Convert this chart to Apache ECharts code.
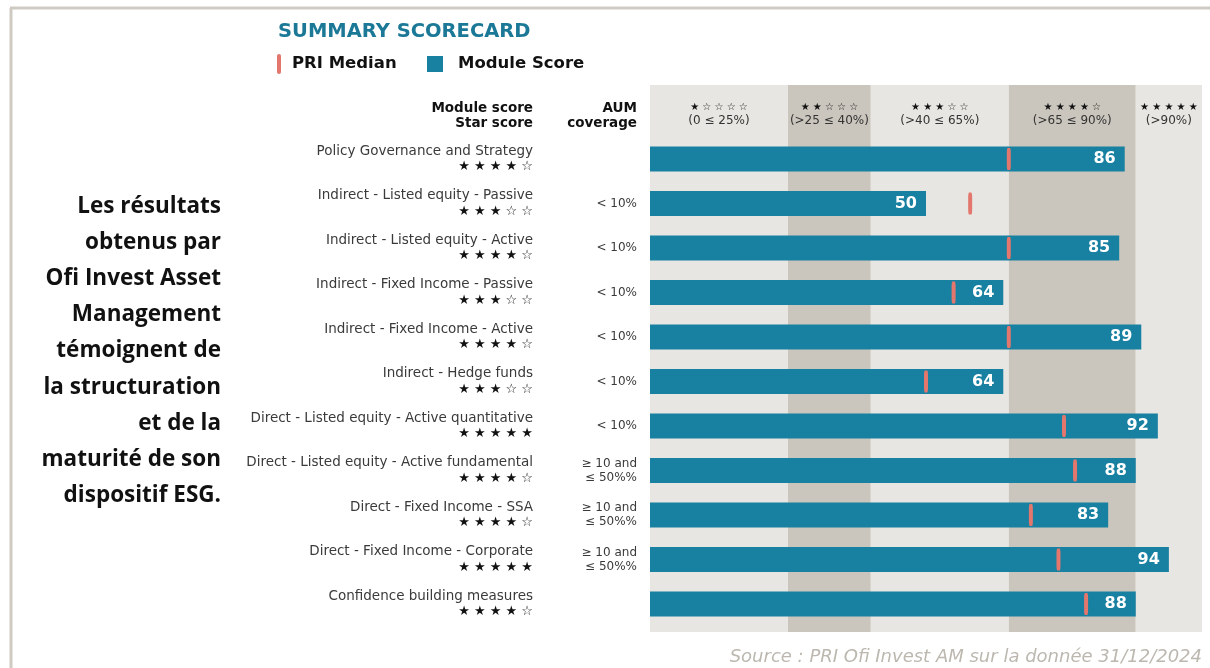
<!DOCTYPE html>
<html>
<head>
<meta charset="utf-8">
<script src="https://cdn.jsdelivr.net/npm/echarts@6/dist/echarts.min.js"></script>
<style>
  html, body { margin: 0; padding: 0; background: #fff; }
  #main { width: 1210px; height: 668px; }
</style>
</head>
<body>
<div id="main"></div>
<script>
// module names, top to bottom
const categories = [
  'Policy Governance and Strategy',
  'Indirect - Listed equity - Passive',
  'Indirect - Listed equity - Active',
  'Indirect - Fixed Income - Passive',
  'Indirect - Fixed Income - Active',
  'Indirect - Hedge funds',
  'Direct - Listed equity - Active quantitative',
  'Direct - Listed equity - Active fundamental',
  'Direct - Fixed Income - SSA',
  'Direct - Fixed Income - Corporate',
  'Confidence building measures'
];
const starScores = [4, 3, 4, 3, 4, 3, 5, 4, 4, 5, 4];
const aumCoverage = ['', '< 10%', '< 10%', '< 10%', '< 10%', '< 10%', '< 10%',
  '≥ 10 and\n≤ 50%%', '≥ 10 and\n≤ 50%%', '≥ 10 and\n≤ 50%%', ''];
const moduleScores = [86, 50, 85, 64, 89, 64, 92, 88, 83, 94, 88];
const priMedians = [65, 58, 65, 55, 65, 50, 75, 77, 69, 74, 79];

// star bands in the background
const bandEdges = [0, 25, 40, 65, 88, 100];
const bandStars = [1, 2, 3, 4, 5];
const bandRanges = ['(0 ≤ 25%)', '(>25 ≤ 40%)', '(>40 ≤ 65%)', '(>65 ≤ 90%)', '(>90%)'];

const introLines = ['Les résultats', 'obtenus par', 'Ofi Invest Asset', 'Management',
  'témoignent de', 'la structuration', 'et de la', 'maturité de son', 'dispositif ESG.'];

const TEAL = '#1880a1';
const PINK = '#e4776d';

function stars(n, sep) {
  var s = [];
  for (var i = 0; i < 5; i++) s.push(i < n ? '★' : '☆');
  return s.join(sep);
}

var chart = echarts.init(document.getElementById('main'));

var bandData = bandRanges.map(function (r, i) {
  return [bandEdges[i], bandEdges[i + 1], i];
});

var option = {
  backgroundColor: '#fff',
  animation: false,
  grid: [
    { left: 650, right: 8, top: 85, bottom: 36 },        // bands + header
    { left: 650, right: 8, top: 136.75, bottom: 41.75 }  // bars
  ],
  xAxis: [
    { gridIndex: 0, type: 'value', min: 0, max: 100, show: false },
    { gridIndex: 1, type: 'value', min: 0, max: 100, show: false }
  ],
  yAxis: [
    { gridIndex: 0, type: 'value', min: 0, max: 1, show: false },
    {
      gridIndex: 1, type: 'category', inverse: true, position: 'left', data: categories,
      axisLine: { show: false }, axisTick: { show: false }, splitLine: { show: false },
      axisLabel: {
        margin: 117,
        align: 'right',
        formatter: function (val, idx) {
          return '{n|' + val + '}\n{s|' + stars(starScores[idx], ' ') + '}';
        },
        rich: {
          n: { fontFamily: 'DejaVu Sans', fontSize: 13.5, color: '#3a3a3a', lineHeight: 16, align: 'right' },
          s: { fontFamily: 'DejaVu Sans', fontSize: 13, color: '#111', lineHeight: 16, align: 'right' }
        }
      }
    },
    {
      gridIndex: 1, type: 'category', inverse: true, position: 'left', offset: 0, data: aumCoverage,
      axisLine: { show: false }, axisTick: { show: false }, splitLine: { show: false },
      axisLabel: {
        margin: 13,
        align: 'right',
        fontFamily: 'DejaVu Sans', fontSize: 12, color: '#3a3a3a', lineHeight: 14
      }
    }
  ],
  series: [
    {
      name: 'bands',
      type: 'custom',
      xAxisIndex: 0, yAxisIndex: 0,
      silent: true,
      z: 1,
      encode: { x: [0, 1] },
      data: bandData,
      renderItem: function (params, api) {
        var i = api.value(2);
        var p0 = api.coord([api.value(0), 1]);
        var p1 = api.coord([api.value(1), 0]);
        return {
          type: 'group',
          children: [
            {
              type: 'rect',
              shape: { x: p0[0], y: p0[1], width: p1[0] - p0[0], height: p1[1] - p0[1] },
              style: { fill: i % 2 ? '#cac6bd' : '#e8e6e2' }
            },
            {
              type: 'text',
              style: {
                x: (p0[0] + p1[0]) / 2, y: p0[1] + 15,
                align: 'center', verticalAlign: 'top',
                text: '{s|' + stars(bandStars[i], ' ') + '}\n{r|' + bandRanges[i] + '}',
                rich: {
                  s: { fontFamily: 'DejaVu Sans', fontSize: 10, fill: '#111', lineHeight: 14, align: 'center' },
                  r: { fontFamily: 'DejaVu Sans', fontSize: 12, fill: '#333', lineHeight: 14, align: 'center' }
                }
              }
            }
          ]
        };
      }
    },
    {
      name: 'Module Score',
      type: 'bar',
      xAxisIndex: 1, yAxisIndex: 1,
      barWidth: 25,
      z: 2,
      itemStyle: { color: TEAL },
      label: {
        show: true,
        position: 'insideRight',
        distance: 9,
        color: '#fff',
        fontFamily: 'DejaVu Sans',
        fontWeight: 'bold',
        fontSize: 16
      },
      data: moduleScores
    },
    {
      name: 'PRI Median',
      type: 'scatter',
      xAxisIndex: 1, yAxisIndex: 1,
      symbol: 'roundRect',
      symbolSize: [4, 22],
      z: 3,
      itemStyle: { color: PINK, opacity: 1 },
      data: priMedians.map(function (v, i) { return [v, i]; })
    }
  ],
  graphic: [
    // frame
    { type: 'line', shape: { x1: 10, y1: 8, x2: 1210, y2: 8 }, style: { stroke: '#cfcbc3', lineWidth: 3 } },
    { type: 'line', shape: { x1: 11, y1: 8, x2: 11, y2: 668 }, style: { stroke: '#cfcbc3', lineWidth: 3 } },
    // title
    { type: 'text', x: 278, y: 32, style: { text: 'SUMMARY SCORECARD', verticalAlign: 'middle', fill: '#1b7896', font: 'bold 19.5px "DejaVu Sans"' } },
    // legend
    { type: 'rect', shape: { x: 277, y: 54, width: 4, height: 20, r: 2 }, style: { fill: PINK } },
    { type: 'text', x: 292, y: 64, style: { text: 'PRI Median', verticalAlign: 'middle', fill: '#111', font: 'bold 16.5px "DejaVu Sans"' } },
    { type: 'rect', shape: { x: 427, y: 56, width: 16, height: 16 }, style: { fill: TEAL } },
    { type: 'text', x: 458, y: 64, style: { text: 'Module Score', verticalAlign: 'middle', fill: '#111', font: 'bold 16.5px "DejaVu Sans"' } },
    // column headers
    {
      type: 'text', x: 533, y: 101,
      style: { text: 'Module score\nStar score', align: 'right', verticalAlign: 'top', fill: '#111', font: 'bold 13.5px "DejaVu Sans"', lineHeight: 15 }
    },
    {
      type: 'text', x: 637, y: 101,
      style: { text: 'AUM\ncoverage', align: 'right', verticalAlign: 'top', fill: '#111', font: 'bold 13.5px "DejaVu Sans"', lineHeight: 15 }
    },
    // intro paragraph
    {
      type: 'text', x: 221, y: 188,
      style: {
        text: introLines.join('\n'), align: 'right', verticalAlign: 'top', fill: '#111',
        font: 'bold 22.5px "Open Sans"', lineHeight: 36.2
      }
    },
    // source
    {
      type: 'text', x: 1202, y: 657,
      style: { text: 'Source : PRI Ofi Invest AM sur la donnée 31/12/2024', align: 'right', verticalAlign: 'middle', fill: '#bcb8b0', font: 'italic 18px "DejaVu Sans"' }
    }
  ]
};

chart.setOption(option);
</script>
</body>
</html>
